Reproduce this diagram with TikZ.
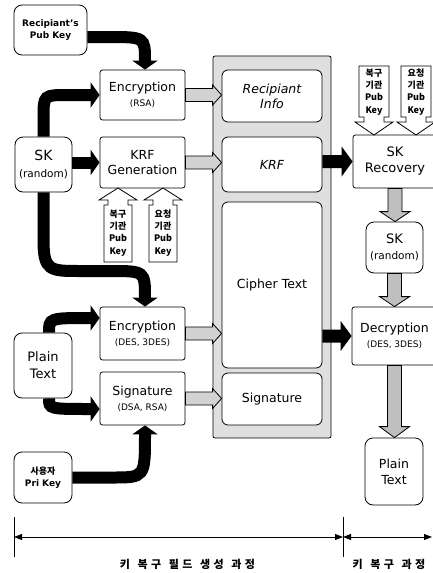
\documentclass[tikz,border=0pt]{standalone}
\usepackage{fontspec}
\setmainfont{DejaVu Sans}
\newfontfamily\kr{Noto Sans CJK KR}
\usetikzlibrary{arrows.meta,calc}
\newcommand\bigt{\fontsize{12.5}{15}\selectfont}
\newcommand\smt{\fontsize{9}{11.5}\selectfont}
\newcommand\sg{\hspace{3.5pt}}
\newcommand\wg{\hspace{7.5pt}}
% horizontal block arrow: from, to, shaft half, head half, head length, style
\newcommand\harrow[6]{\path[#6] let \p1=(#1), \p2=(#2) in
  (\x1,\y1+#3) -- (\x2-#5,\y1+#3) -- (\x2-#5,\y1+#4) -- (\x2,\y1) --
  (\x2-#5,\y1-#4) -- (\x2-#5,\y1-#3) -- (\x1,\y1-#3) -- cycle;}
% vertical (downward) block arrow
\newcommand\varrow[6]{\path[#6] let \p1=(#1), \p2=(#2) in
  (\x1+#3,\y1) -- (\x1+#3,\y2+#5) -- (\x1+#4,\y2+#5) -- (\x1,\y2) --
  (\x1-#4,\y2+#5) -- (\x1-#3,\y2+#5) -- (\x1-#3,\y1) -- cycle;}
\tikzset{
  box/.style={draw, line width=0.8pt, fill=white, align=center, inner sep=0pt, rounded corners=2.5pt, font=\bigt},
  rbox/.style={box, rounded corners=8pt},
  ibox/.style={box, rounded corners=6pt},
  bigarrow/.style={line width=12pt, -{Triangle[width=25pt,length=9pt]}},
  hatch/.style={draw, line width=0.8pt, fill=gray!35},
  blk/.style={fill=black},
  garrow/.style={draw, line width=0.8pt, fill=gray!50},
  callout/.style={draw, line width=0.8pt, fill=white, line join=miter},
  ctext/.style={font=\kr\bfseries\fontsize{9}{12.3}\selectfont, align=center, inner sep=0pt},
  dim/.style={line width=0.8pt, {Triangle[width=6pt,length=8pt]}-{Triangle[width=6pt,length=8pt]}},
  lab/.style={font=\kr\bfseries\fontsize{11}{13}\selectfont, inner sep=0pt},
}
\begin{document}
\begin{tikzpicture}[x=1pt,y=-1pt]
\useasboundingbox (0,0) rectangle (433,573);

% container
\node[draw, line width=0.8pt, fill=gray!25, rounded corners=2pt, minimum width=118pt, minimum height=382pt, inner sep=0pt] (cont) at (272,247) {};

% left column
\node[rbox, minimum width=73pt, minimum height=50pt, font=\bfseries\fontsize{9}{12}\selectfont] (rpk) at (50.5,30) {Recipiant's\\Pub Key};
\node[box, minimum width=85pt, minimum height=50pt] (encrsa) at (142.5,95) {Encryption\\\smt (RSA)};
\node[rbox, minimum width=57pt, minimum height=55pt, font=\fontsize{14}{17}\selectfont] (sk) at (43.5,164.5) {SK\\\fontsize{10.5}{13}\selectfont (random)};
\node[box, minimum width=85pt, minimum height=51pt] (krfgen) at (142.5,162.5) {KRF\\Generation};
\node[rbox, minimum width=58pt, minimum height=65pt, font=\fontsize{13}{17}\selectfont] (plain) at (43,365.5) {Plain\\Text};
\node[box, minimum width=85pt, minimum height=53pt] (encdes) at (142.5,333.5) {Encryption\\\smt (DES, 3DES)};
\node[box, minimum width=85pt, minimum height=53pt] (sig) at (142.5,398.5) {Signature\\\smt (DSA, RSA)};
\node[rbox, minimum width=58pt, minimum height=51pt, font=\bfseries\fontsize{9}{12.5}\selectfont] (upk) at (43,477.5) {{\kr 사용자}\\Pri Key};

% inner boxes
\node[ibox, minimum width=100pt, minimum height=52pt, font=\bigt\itshape] (rinfo) at (272,96) {Recipiant\\Info};
\node[ibox, minimum width=100pt, minimum height=55pt, font=\bigt\itshape] (krf) at (272,164.5) {KRF};
\node[ibox, minimum width=100pt, minimum height=166pt] (cipher) at (272,285) {Cipher Text};
\node[ibox, minimum width=100pt, minimum height=52pt] (sig2) at (272,399) {Signature};

% right column
\node[box, minimum width=84pt, minimum height=53pt, font=\fontsize{13}{16}\selectfont] (skrec) at (395,161.5) {SK\\Recovery};
\node[rbox, minimum width=57pt, minimum height=51pt, font=\fontsize{13}{16}\selectfont] (sk2) at (394.5,247.5) {SK\\\fontsize{10.5}{13}\selectfont (random)};
\node[box, minimum width=85pt, minimum height=58pt] (dec) at (394.5,336) {Decryption\\\smt (DES, 3DES)};
\node[rbox, minimum width=58pt, minimum height=67pt, font=\fontsize{12.5}{16}\selectfont] (plain2) at (394,471.5) {Plain\\Text};

% curved black arrows
\draw[bigarrow] ([yshift=-7pt]rpk.east) -- (108,37) .. controls (145,37) .. ([xshift=2.5pt]encrsa.north);
\draw[bigarrow] (sk.north) -- (43.5,118) .. controls (43.5,95) .. (68,95) -- (encrsa.west);
\draw[bigarrow] (sk.east |- krfgen.west) -- (krfgen.west);
\draw[bigarrow] (sk.south) -- (43.5,240) .. controls (43.5,271) and (50,271) .. (80,271) -- (110,271) .. controls (145,271) .. ([xshift=2.5pt]encdes.north);
\draw[bigarrow] ([xshift=6pt]plain.north) .. controls (49,318) .. (encdes.west |- 0,318);
\draw[bigarrow] ([xshift=6pt]plain.south) .. controls (49,409) .. (sig.west |- 0,409);
\draw[bigarrow] (upk.east) -- (112,477.5) .. controls (145,477.5) .. ([xshift=2.5pt]sig.south);

% hatched arrows into container
\harrow{encrsa.east}{rinfo.west}{6.5pt}{10pt}{9pt}{hatch}
\harrow{krfgen.east}{krf.west}{6.5pt}{10pt}{9pt}{hatch}
\harrow{encdes.east}{cipher.west}{6.5pt}{10pt}{9pt}{hatch}
\harrow{sig.east}{sig2.west}{6.5pt}{10pt}{9pt}{hatch}

% black block arrows
\harrow{krf.east |- skrec.west}{skrec.west}{6.5pt}{15pt}{11pt}{blk}
\harrow{cipher.east |- dec.west}{dec.west}{6.5pt}{15pt}{11pt}{blk}

% gray vertical arrows
\varrow{skrec.south}{sk2.north}{7pt}{15pt}{10pt}{garrow}
\varrow{sk2.south}{dec.north}{7pt}{15pt}{10pt}{garrow}
\varrow{dec.south}{plain2.north}{7pt}{15pt}{11pt}{garrow}

% callouts (up)
\draw[callout] (118,188) -- (99,200) -- (108,200) -- (108,205) -- (104,205) -- (104,262) -- (132,262) -- (132,205) -- (128,205) -- (128,200) -- (137,200) -- cycle;
\draw[callout] (163,188) -- (144,200) -- (153,200) -- (153,205) -- (149,205) -- (149,262) -- (177,262) -- (177,205) -- (173,205) -- (173,200) -- (182,200) -- cycle;
\node[ctext] (c1) at (118,233) {복구\\기관\\Pub\\Key};
\node[ctext] (c2) at (163,233) {요청\\기관\\Pub\\Key};
% callouts (down)
\draw[callout] (374,135) -- (355,122) -- (364,122) -- (364,117) -- (359,117) -- (359,66) -- (389,66) -- (389,117) -- (384,117) -- (384,122) -- (393,122) -- cycle;
\draw[callout] (416,135) -- (397,122) -- (406,122) -- (406,117) -- (401,117) -- (401,66) -- (431,66) -- (431,117) -- (426,117) -- (426,122) -- (435,122) -- cycle;
\node[ctext] (c3) at (374,92) {복구\\기관\\Pub\\Key};
\node[ctext] (c4) at (416,92) {요청\\기관\\Pub\\Key};

% dimension line
\coordinate (d1) at (14,537);
\coordinate (d2) at (343,537);
\coordinate (d3) at (432,537);
\draw[line width=0.6pt] (14,517) -- (14,557);
\draw[line width=0.6pt] (343,517) -- (343,557);
\draw[dim] (d1) -- (d2);
\draw[dim] (d2) -- (d3);
\node[lab] (l1) at (187.5,564) {키\wg 복\sg 구\wg 필\sg 드\wg 생\sg 성\wg 과\sg 정};
\node[lab] (l2) at (389,564) {키\wg 복\sg 구\wg 과\sg 정};
\end{tikzpicture}
\end{document}
